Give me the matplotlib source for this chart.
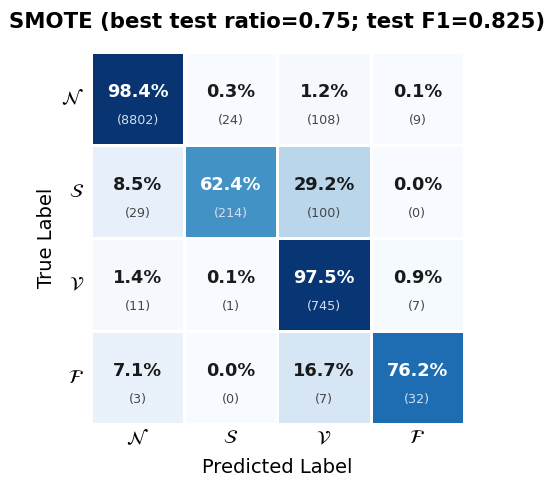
import numpy as np
import matplotlib
matplotlib.use('Agg')
import matplotlib.pyplot as plt
import seaborn as sns

classes = [r'$\mathcal{N}$', r'$\mathcal{S}$', r'$\mathcal{V}$', r'$\mathcal{F}$']
counts = np.array([[8802, 24, 108, 9],
                   [29, 214, 100, 0],
                   [11, 1, 745, 7],
                   [3, 0, 7, 32]])
pct = np.array([[98.4, 0.3, 1.2, 0.1],
                [8.5, 62.4, 29.2, 0.0],
                [1.4, 0.1, 97.5, 0.9],
                [7.1, 0.0, 16.7, 76.2]])

fig = plt.figure(figsize=(5.5, 4.8), dpi=100)
ax = fig.add_axes([0.1655, 0.1167, 0.678, 0.775])
sns.heatmap(pct / 100, ax=ax, cmap='Blues', vmin=0, vmax=1, cbar=False,
            linewidths=2, linecolor='white', square=False)

for i in range(4):
    for j in range(4):
        v = pct[i, j] / 100
        dark = v > 0.5
        c1 = 'white' if dark else '#1a1a1a'
        c2 = '#d5dfeb' if dark else '#454545'
        ax.text(j + 0.5, i + 0.43, f'{pct[i, j]:.1f}%', ha='center', va='center',
                fontsize=12.8, fontweight='bold', color=c1)
        ax.text(j + 0.5, i + 0.74, f'({counts[i, j]})', ha='center', va='center',
                fontsize=9.2, color=c2)

ax.set_xticks(np.arange(4) + 0.5)
ax.set_yticks(np.arange(4) + 0.5)
ax.set_xticklabels(classes, fontsize=14)
ax.set_yticklabels(classes, fontsize=14, rotation=0)
ax.tick_params(axis='x', length=0, pad=3)
ax.tick_params(axis='y', length=0, pad=5)
ax.set_xlabel('Predicted Label', fontsize=14, labelpad=7)
ax.set_ylabel('True Label', fontsize=14, labelpad=4)
ax.set_title('SMOTE (best test ratio=0.75; test F1=0.825)', fontsize=15.3,
             fontweight='bold', pad=17)

plt.savefig('out.png', dpi=100)
